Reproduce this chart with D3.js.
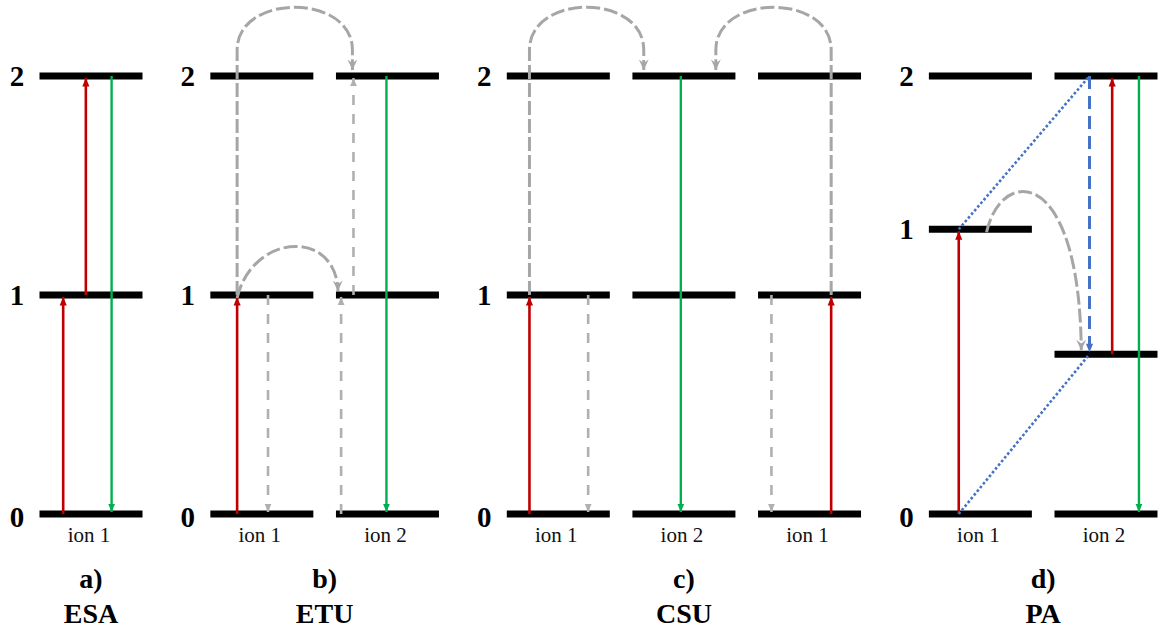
<!DOCTYPE html>
<html>
<head>
<meta charset="utf-8">
<script src="https://cdn.jsdelivr.net/npm/d3@7"></script>
<style>
  html, body { margin: 0; padding: 0; background: #ffffff; }
  svg { display: block; }
</style>
</head>
<body>
<svg id="chart" width="1158" height="632"></svg>
<script>
// Up-conversion mechanisms, one panel each
const panelLetters = ["a)", "b)", "c)", "d)"];
const panelNames = ["ESA", "ETU", "CSU", "PA"];

// ion label under every column of every panel
const ionLabels = [
  ["ion 1"],
  ["ion 1", "ion 2"],
  ["ion 1", "ion 2", "ion 1"],
  ["ion 1", "ion 2"]
];

// energy levels of every column (in level units)
const levelEnergies = [
  [[0, 1, 2]],
  [[0, 1, 2], [0, 1, 2]],
  [[0, 1, 2], [0, 1, 2], [0, 1, 2]],
  [[0, 1.3, 2], [0, 0.73, 2]]
];

// level numbers written left of each panel
const tickEnergies = [[0, 1, 2], [0, 1, 2], [0, 1, 2], [0, 1.3, 2]];
const tickLabels = ["0", "1", "2"];

// transitions: [panel, column, from level, to level, place along the level 0..1]
const pumpArrows = [
  [0, 0, 0, 1, 0.23], [0, 0, 1, 2, 0.45],
  [1, 0, 0, 1, 0.26],
  [2, 0, 0, 1, 0.22], [2, 2, 0, 1, 0.71],
  [3, 0, 0, 1.3, 0.29], [3, 1, 0.73, 2, 0.56]
];
const emissionArrows = [
  [0, 0, 2, 0, 0.70],
  [1, 1, 2, 0, 0.49],
  [2, 1, 2, 0, 0.47],
  [3, 1, 2, 0, 0.82]
];
const relaxArrows = [
  [1, 0, 1, 0, 0.56], [1, 1, 0, 1, 0.05], [1, 1, 1, 2, 0.17],
  [2, 0, 1, 0, 0.79], [2, 2, 1, 0, 0.13]
];
const crossRelaxArrows = [
  [3, 1, 2, 0.73, 0.34]
];
// dotted links: [panel, [column, level, place], [column, level, place]]
const crossRelaxLinks = [
  [3, [0, 1.3, 0.29], [1, 2, 0.34]],
  [3, [0, 0, 0.29], [1, 0.73, 0.34]]
];
// energy transfer curves: [panel, shape, [column, level, place], [column, level, place]]
const transferCurves = [
  [1, "loop", [0, 1, 0.26], [1, 2, 0.16]],
  [1, "hop", [0, 1, 0.26], [1, 1, 0.02]],
  [2, "loop", [0, 1, 0.22], [1, 2, 0.11]],
  [2, "loop", [2, 1, 0.71], [1, 2, 0.81]],
  [3, "hop", [0, 1.3, 0.56], [1, 0.73, 0.26]]
];

const svg = d3.select("#chart");

const COLORS = { pump: "#c00000", emit: "#00b050", relax: "#b0b0b0", curve: "#a6a6a6", blue: "#4472c4" };
const SERIF = "'Liberation Serif', 'Times New Roman', serif";

// column slots: columns are evenly spaced, with an extra gap between panels
const panelGap = 0.36;
const colStart = [];
levelEnergies.reduce((acc, cols, i) => { colStart[i] = acc; return acc + cols.length; }, 0);
const slotOf = (p, c) => colStart[p] + c + panelGap * p;
const lastSlot = slotOf(3, 1);

const x = d3.scaleLinear().domain([0, lastSlot]).range([91, 1106]);
const y = d3.scaleLinear().domain([0, 2]).range([514, 76]);
const barW = 103;

const colX = (p, c) => x(slotOf(p, c));
const placeX = (p, c, at) => colX(p, c) - barW / 2 + at * barW;

// arrowhead markers (drawn in user units, scaled by s)
const defs = svg.append("defs");
function marker(id, color, path, s) {
  defs.append("marker")
    .attr("id", id)
    .attr("viewBox", "-12 -6 13 12")
    .attr("refX", 0).attr("refY", 0)
    .attr("markerUnits", "userSpaceOnUse")
    .attr("markerWidth", 13 * s).attr("markerHeight", 12 * s)
    .attr("orient", "auto")
    .append("path").attr("d", path).attr("fill", color);
}
const TRI = "M0,0 L-10,-4.2 L-10,4.2 Z";
marker("head-pump", COLORS.pump, TRI, 0.85);
marker("head-emit", COLORS.emit, TRI, 0.8);
marker("head-relax", COLORS.relax, TRI, 0.8);
marker("head-blue", COLORS.blue, TRI, 0.85);
marker("head-curve", COLORS.curve, "M0,0 L-11,-5.2 L-7,0 L-11,5.2 Z", 0.95);

// energy level bars
const bars = [];
levelEnergies.forEach((cols, p) => cols.forEach((lv, c) => lv.forEach(e => bars.push({ p, c, e }))));
svg.append("g").selectAll("line").data(bars).join("line")
  .attr("x1", d => colX(d.p, d.c) - barW / 2)
  .attr("x2", d => colX(d.p, d.c) + barW / 2)
  .attr("y1", d => y(d.e)).attr("y2", d => y(d.e))
  .attr("stroke", "#000").attr("stroke-width", 7);

// level numbers
const ticks = [];
tickEnergies.forEach((es, p) => es.forEach((e, i) => ticks.push({ p, e, t: tickLabels[i] })));
svg.append("g").selectAll("text").data(ticks).join("text")
  .attr("x", d => colX(d.p, 0) - 74)
  .attr("y", d => y(d.e) + (d.t === "0" ? 13 : 10))
  .attr("text-anchor", "middle")
  .attr("font-family", SERIF).attr("font-weight", "bold").attr("font-size", 29)
  .attr("fill", "#000")
  .text(d => d.t);

// ion labels
const ions = [];
ionLabels.forEach((cols, p) => cols.forEach((t, c) => ions.push({ p, c, t })));
svg.append("g").selectAll("text").data(ions).join("text")
  .attr("x", d => colX(d.p, d.c) - 2)
  .attr("y", 542)
  .attr("text-anchor", "middle")
  .attr("font-family", SERIF).attr("font-size", 21)
  .attr("fill", "#111")
  .text(d => d.t);

// panel captions
const panelMid = p => d3.mean(levelEnergies[p], (_, c) => colX(p, c));
const caps = svg.append("g").selectAll("g").data(panelLetters).join("g");
caps.append("text")
  .attr("x", (d, p) => panelMid(p)).attr("y", 588)
  .attr("text-anchor", "middle")
  .attr("font-family", SERIF).attr("font-weight", "bold").attr("font-size", 28)
  .text(d => d);
caps.append("text")
  .attr("x", (d, p) => panelMid(p)).attr("y", 623)
  .attr("text-anchor", "middle")
  .attr("font-family", SERIF).attr("font-weight", "bold").attr("font-size", 28)
  .text((d, p) => panelNames[p]);

// straight vertical transitions
function arrows(data, color, head, width, dash) {
  svg.append("g").selectAll("line").data(data).join("line")
    .attr("x1", d => placeX(d[0], d[1], d[4]))
    .attr("x2", d => placeX(d[0], d[1], d[4]))
    .attr("y1", d => y(d[2]))
    .attr("y2", d => y(d[3]) + (d[3] > d[2] ? 2 : -2))
    .attr("stroke", color).attr("stroke-width", width)
    .attr("stroke-dasharray", dash)
    .attr("marker-end", `url(#${head})`);
}
arrows(relaxArrows, COLORS.relax, "head-relax", 2.6, "10,9");
arrows(crossRelaxArrows, COLORS.blue, "head-blue", 3, "13,7");
arrows(emissionArrows, COLORS.emit, "head-emit", 2.4, null);
arrows(pumpArrows, COLORS.pump, "head-pump", 2.6, null);

// dotted cross-relaxation links
svg.append("g").selectAll("line").data(crossRelaxLinks).join("line")
  .attr("x1", d => placeX(d[0], d[1][0], d[1][2]))
  .attr("y1", d => y(d[1][1]))
  .attr("x2", d => placeX(d[0], d[2][0], d[2][2]))
  .attr("y2", d => y(d[2][1]))
  .attr("stroke", COLORS.blue).attr("stroke-width", 2.6)
  .attr("stroke-dasharray", "2.6,2.2");

// energy transfer curves
function curvePath(d) {
  const [p, shape, a, b] = d;
  const x1 = placeX(p, a[0], a[2]), x2 = placeX(p, b[0], b[2]);
  const path = d3.path();
  if (shape === "loop") {
    const y1 = y(a[1]);
    const yA = y(2) - 26;
    const y2 = y(b[1]) - 6;
    path.moveTo(x1, y1);
    path.lineTo(x1, yA);
    path.bezierCurveTo(x1, yA - 57, x2, yA - 57, x2, yA);
    path.lineTo(x2, y2);
    return path.toString();
  }
  const y1 = y(a[1]) + 3;
  const y2 = y(b[1]) - 4;
  const dx = x2 - x1;
  path.moveTo(x1, y1);
  path.bezierCurveTo(x1 + 0.15 * dx, y1 - 65, x2 - 0.02 * dx, y1 - 70, x2, y2);
  return path.toString();
}
svg.append("g").selectAll("path").data(transferCurves).join("path")
  .attr("d", curvePath)
  .attr("fill", "none")
  .attr("stroke", COLORS.curve).attr("stroke-width", 3)
  .attr("stroke-dasharray", "14,4")
  .attr("marker-end", "url(#head-curve)");
</script>
</body>
</html>
